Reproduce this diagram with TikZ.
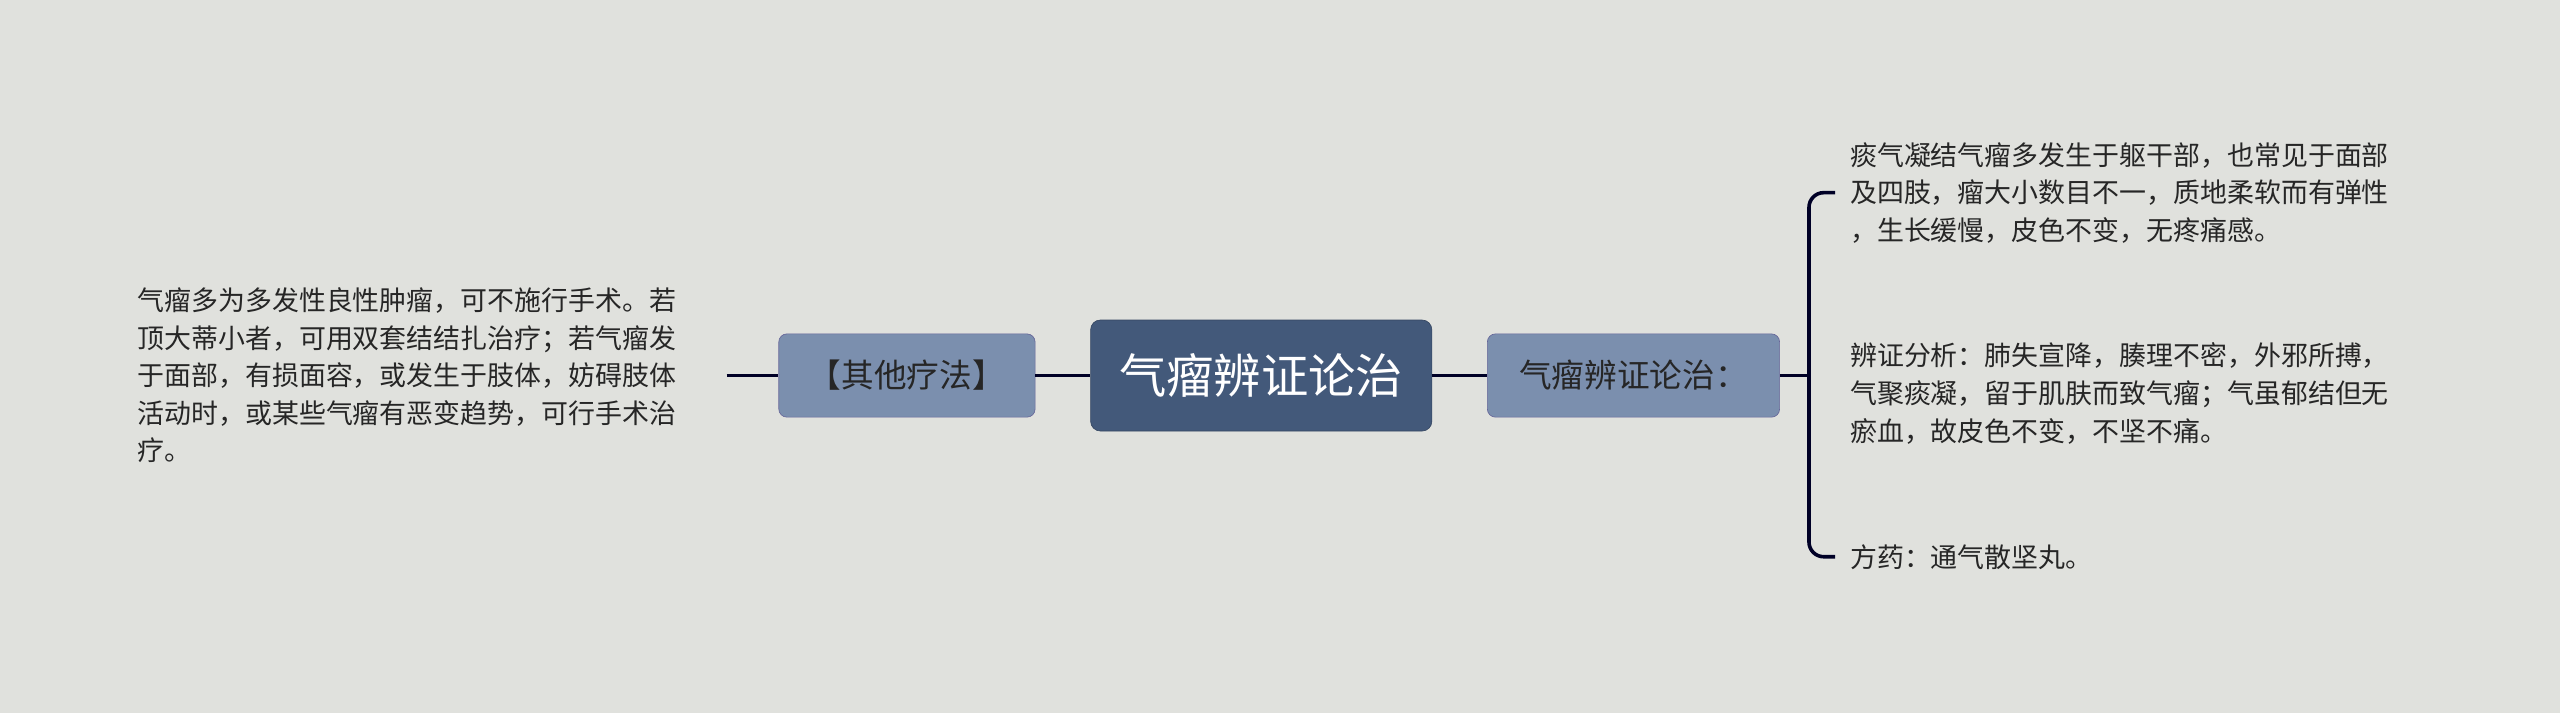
\documentclass[tikz,border=0pt]{standalone}
\usepackage{fontspec}
\setmainfont{Noto Sans CJK SC}
\begin{document}
\begin{tikzpicture}[x=1pt,y=-1pt,
  conn/.style={draw=black!85!blue, line width=2.2pt},
  sub/.style={rounded corners=5pt, fill=blue!25!gray!75!white, draw=blue!20!gray, minimum height=51pt, font=\fontsize{20}{24}\selectfont, text=black!85},
  leaf/.style={align=left, anchor=west, inner sep=0pt, font=\fontsize{16.5}{23}\selectfont, text=black!85}]
\definecolor{bg}{HTML}{E0E1DD}
\definecolor{cen}{HTML}{43597A}
\definecolor{subc}{HTML}{7B8FAE}
\fill[bg] (0,0) rectangle (1568,437);
\useasboundingbox (0,0) rectangle (1568,437);
\node[rounded corners=6pt, fill=cen, draw=cen!80!black, minimum width=209pt, minimum height=68pt, text=white, font=\fontsize{29}{32}\selectfont] (c) at (772.5,230) {气瘤辨证论治};
\node[sub, fill=subc, minimum width=157pt] (l) at (555.5,230) {【其他疗法】};
\node[sub, fill=subc, minimum width=179pt] (r) at (1000.5,230) {气瘤辨证论治：};
\node[leaf] (lt) at (84,230) {气瘤多为多发性良性肿瘤，可不施行手术。若\\顶大蒂小者，可用双套结结扎治疗；若气瘤发\\于面部，有损面容，或发生于肢体，妨碍肢体\\活动时，或某些气瘤有恶变趋势，可行手术治\\疗。};
\node[leaf] (r1) at (1133,118) {痰气凝结气瘤多发生于躯干部，也常见于面部\\及四肢，瘤大小数目不一，质地柔软而有弹性\\，生长缓慢，皮色不变，无疼痛感。};
\node[leaf] (r2) at (1133,241) {辨证分析：肺失宣降，腠理不密，外邪所搏，\\气聚痰凝，留于肌肤而致气瘤；气虽郁结但无\\瘀血，故皮色不变，不坚不痛。};
\node[leaf] (r3) at (1133,341) {方药：通气散坚丸。};
\coordinate (lte) at (445,230);
\coordinate (b) at (1108,230);
\draw[conn] (lte) -- (l.west);
\draw[conn] (l.east) -- (c.west);
\draw[conn] (c.east) -- (r.west);
\draw[conn] (r.east) -- (b);
\draw[conn, rounded corners=9pt] (1124,118) -- (1108,118) -- (1108,341) -- (1124,341);
\end{tikzpicture}
\end{document}
